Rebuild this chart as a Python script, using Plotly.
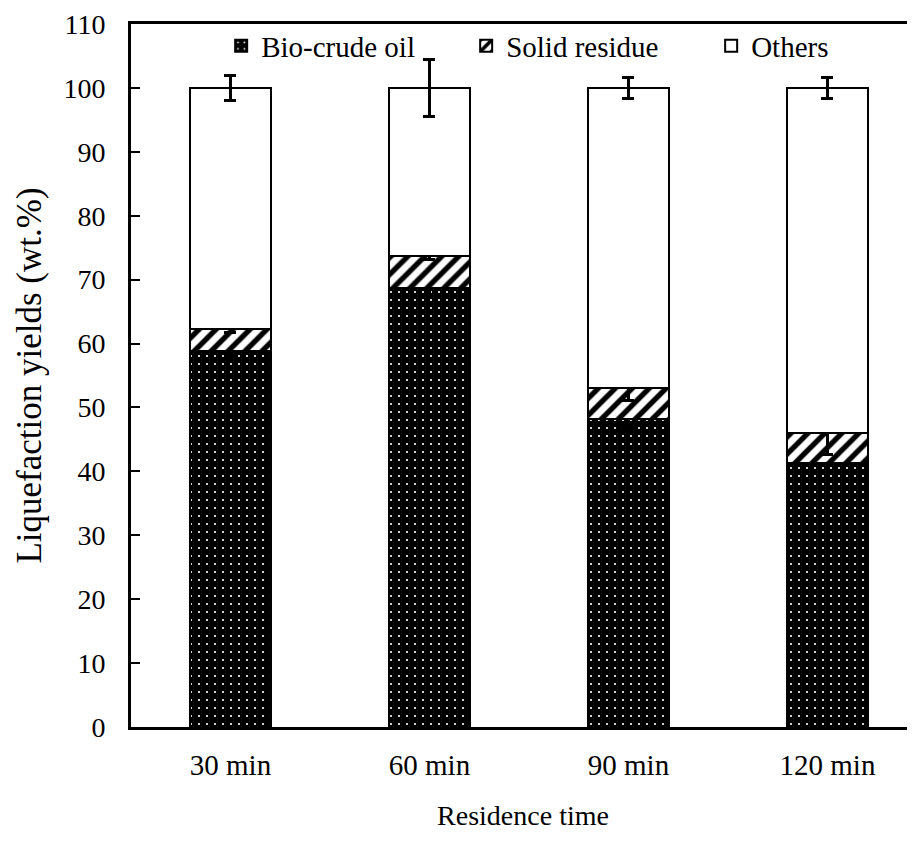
import plotly.graph_objects as go

categories = ["30 min", "60 min", "90 min", "120 min"]
bio_crude = [58.8, 68.7, 48.2, 41.3]
solid_residue = [3.5, 5.0, 4.9, 4.7]
others = [37.7, 26.3, 46.9, 54.0]
bio_err = [0.8, 1.0, 1.5, 1.5]
solid_err = [0.6, 0.5, 2.0, 3.3]
others_err = [2.0, 4.5, 1.7, 1.6]
y_ticks = list(range(0, 111, 10))

FONT = "Liberation Serif"
FS = 28

err_style = dict(type="data", thickness=3, width=6, color="black", visible=True)

fig = go.Figure()
fig.add_trace(go.Bar(
    name="Bio-crude oil", x=categories, y=bio_crude,
    marker=dict(color="black", line=dict(color="black", width=2),
                pattern=dict(shape=".", fgcolor="white", bgcolor="black",
                             size=8, solidity=0.06, fillmode="replace")),
    error_y=dict(array=bio_err, **err_style),
))
fig.add_trace(go.Bar(
    name="Solid residue", x=categories, y=solid_residue,
    marker=dict(color="white", line=dict(color="black", width=2),
                pattern=dict(shape="/", fgcolor="black", bgcolor="white",
                             size=12, solidity=0.45, fillmode="replace")),
    error_y=dict(array=solid_err, **err_style),
))
fig.add_trace(go.Bar(
    name="Others", x=categories, y=others,
    marker=dict(color="white", line=dict(color="black", width=2)),
    error_y=dict(array=others_err, **err_style),
))

fig.update_layout(
    barmode="stack",
    bargap=1 - 0.407,
    width=915, height=851,
    margin=dict(l=123, r=8, t=16, b=132, autoexpand=False),
    paper_bgcolor="white", plot_bgcolor="white",
    font=dict(family=FONT, size=FS, color="black"),
    showlegend=True,
    legend=dict(orientation="h", x=0.115, y=0.969, xanchor="left", yanchor="middle",
                bgcolor="rgba(0,0,0,0)", font=dict(family=FONT, size=29),
                entrywidth=200, entrywidthmode="pixels", traceorder="normal",
                itemwidth=30),
    xaxis=dict(range=[-0.5, 3.44], showline=True, linecolor="black", linewidth=3,
               mirror=True, ticks="", showgrid=False, zeroline=False, automargin=False,
               tickfont=dict(family=FONT, size=29), ticklabelstandoff=10,
               title=dict(text="Residence time", standoff=26,
                          font=dict(family=FONT, size=FS))),
    yaxis=dict(range=[0, 110], tickvals=y_ticks, showline=True, linecolor="black",
               linewidth=3, ticks="inside", ticklen=9, tickwidth=2, tickcolor="black",
               showgrid=False, zeroline=False, automargin=False,
               tickfont=dict(family=FONT, size=FS), ticklabelstandoff=17,
               title=dict(text="Liquefaction yields (wt.%)", standoff=12,
                          font=dict(family=FONT, size=35))),
)

fig.write_html("out.html")
